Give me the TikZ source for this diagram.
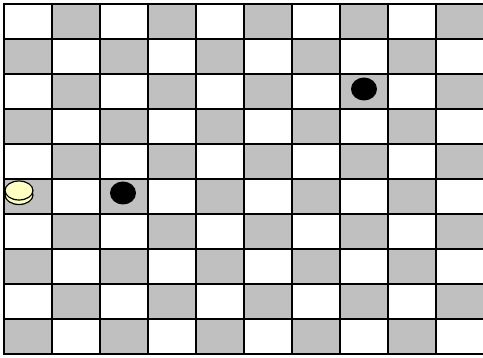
\documentclass[tikz,border=0pt]{standalone}
\usepackage{xcolor}
\usepackage{tikz}

\definecolor{boardgray}{HTML}{C0C0C0}
\definecolor{coincream}{HTML}{FFFFC4}

\begin{document}
\begin{tikzpicture}[
        x=1pt, y=-1pt,
        cellgray/.style={fill=boardgray},
        gridline/.style={line width=2pt},
        stone/.style={fill=black},
        coin/.style={draw, fill=coincream, line width=1.2pt}
    ]

    \useasboundingbox (0,0) rectangle (483,358);
    \clip (0,0) rectangle (483,358);

    % --- Board squares (grey ones only) ---
    \foreach \c in {0,...,9} {
        \foreach \r in {0,...,9} {
            \pgfmathtruncatemacro{\odd}{mod(\c+\r,2)}
            \ifnum\odd=1
                \fill[cellgray] (4+48*\c,4+35*\r) rectangle ++(48,35);
            \fi
        }
    }

    % --- Grid lines ---
    \foreach \c in {0,...,10} \draw[gridline] (4+48*\c,3) -- (4+48*\c,355);
    \foreach \r in {0,...,10} \draw[gridline] (3,4+35*\r) -- (490,4+35*\r);

    % --- Black stones ---
    \fill[stone] (364,89) ellipse (13pt and 11.5pt);
    \fill[stone] (123,193) ellipse (13pt and 11.5pt);

    % --- Cream coin (two stacked disks) ---
    \draw[coin] (19,195) ellipse (14pt and 9.5pt);
    \draw[coin] (19,190.5) ellipse (14pt and 9.5pt);

\end{tikzpicture}
\end{document}
